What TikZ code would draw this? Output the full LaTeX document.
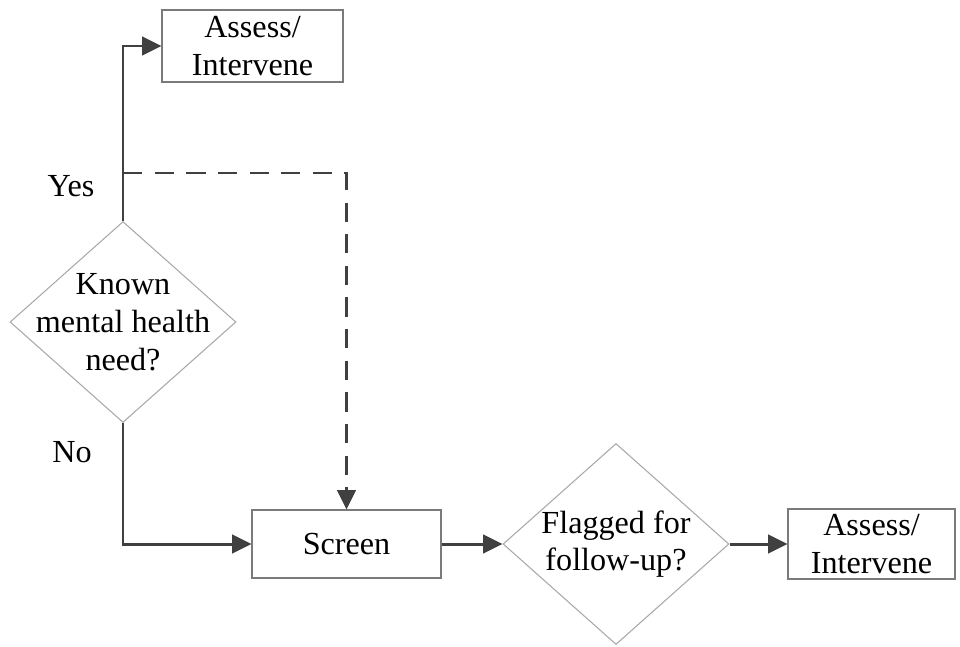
\documentclass[tikz,border=0pt]{standalone}
\usepackage{fontspec}
\setmainfont{Liberation Serif}
\usetikzlibrary{shapes.geometric,arrows.meta}

\definecolor{linegray}{HTML}{404040}
\definecolor{boxgray}{HTML}{7A7A7A}
\definecolor{diamgray}{HTML}{A8A8A8}

\tikzset{
  every node/.style={font=\fontsize{18.3}{21.5}\selectfont},
  stepbox/.style={draw=boxgray, line width=0.6pt, align=center, inner sep=0pt},
  decision/.style={diamond, draw=diamgray, line width=0.6pt, inner sep=0pt,
    minimum width=4.52cm, minimum height=4.02cm},
  flow/.style={draw=linegray, line width=1.7pt,
    -{Triangle[length=11pt,width=10.5pt]}},
}

\begin{document}
\begin{tikzpicture}[x=0.02cm, y=-0.02cm]
        \useasboundingbox (0,0) rectangle (960,646);
        % boxes and decisions
        \node[stepbox, minimum width=3.62cm, minimum height=1.44cm] (assessTop) at (252.5,46) {Assess/\\Intervene};
        \node[decision] (known) at (123,322) {};
        \node[align=center] (knownText) at (known) {Known\\mental health\\need?};
        \node[stepbox, minimum width=3.78cm, minimum height=1.36cm] (screen) at (346.5,544) {Screen};
        \node[decision] (flagged) at (616,544) {};
        \node[align=center] (flaggedText) at (flagged) {Flagged for\\follow-up?};
        \node[stepbox, minimum width=3.34cm, minimum height=1.40cm] (assessRight) at (871.5,544) {Assess/\\Intervene};
        % branch labels
        \node (yes) at (71,186) {Yes};
        \node (no) at (72,452) {No};
        % connectors
        \coordinate (yesJoin) at (123,173);
        \draw[flow] (known.north) |- (assessTop.west);
        \draw[flow] (known.south) |- (screen.west);
        \draw[flow, dashed, dash pattern=on 11pt off 7pt] (yesJoin) -| (screen.north);
        \draw[flow] (screen.east) -- (flagged.west);
        \draw[flow] (flagged.east) -- (assessRight.west);
    \end{tikzpicture}
\end{document}
